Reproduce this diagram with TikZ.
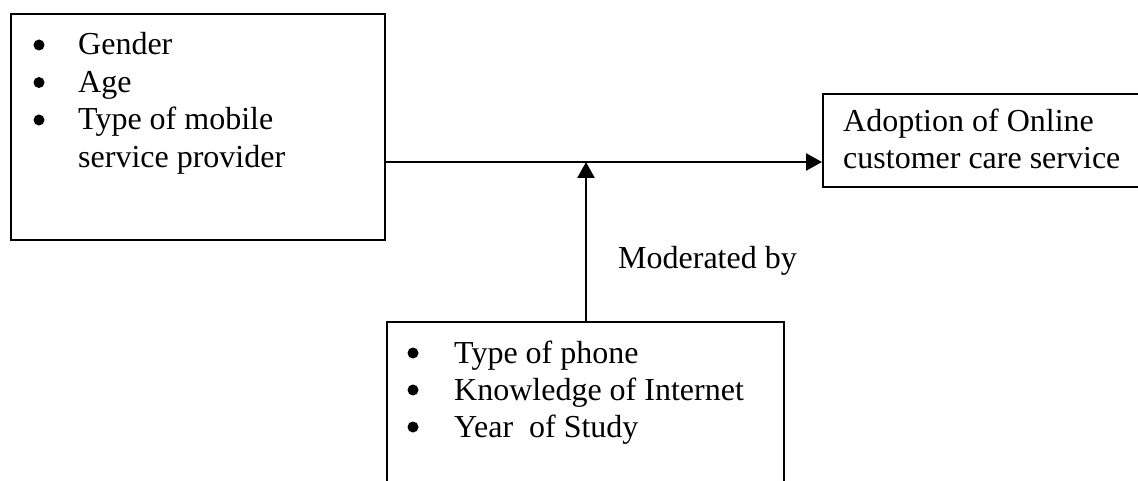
\documentclass[tikz,border=0pt]{standalone}
\usepackage{fontspec}
\setmainfont{Liberation Serif}
\usetikzlibrary{arrows.meta}
\tikzset{
	box/.style={draw, rectangle, line width=2pt, inner sep=0pt, anchor=north west},
	txt/.style={anchor=base west, inner sep=0pt, font=\fontsize{32}{37.5}\selectfont},
	link/.style={line width=2.6pt, -{Triangle[length=16pt,width=17pt]}},
}
\begin{document}
\begin{tikzpicture}[x=1pt,y=-1pt]
	\useasboundingbox (0,0) rectangle (1138,481);
	% boxes
	\node[box, minimum width=374pt, minimum height=226pt] (traits) at (10,13) {};
	\node[box, minimum width=330pt, minimum height=93pt] (adopt) at (822,93) {};
	\node[box, minimum width=397pt, minimum height=175pt] (moder) at (386,321) {};
	% left list
	\node[txt] (t1) at (78,55) {Gender};
	\node[txt] (t2) at (78,92.5) {Age};
	\node[txt] (t3) at (78,130) {Type of mobile};
	\node[txt] (t4) at (78,167.5) {service provider};
	% right text
	\node[txt] (a1) at (843,132) {Adoption of Online};
	\node[txt] (a2) at (843,169) {customer care service};
	% bottom list
	\node[txt] (m1) at (454,363) {Type of phone};
	\node[txt] (m2) at (454,400) {Knowledge of Internet};
	\node[txt] (m3) at (454,437) {Year\ \ of Study};
	% bullets
	\foreach \n/\dx in {t1/39,t2/39,t3/39,m1/41,m2/41,m3/41}
		\fill ([xshift=-\dx pt,yshift=10pt]\n.base west) circle (5.5pt);
	% connectors
	\coordinate (j) at (586,162);
	\draw[link] (traits.east |- j) -- (adopt.west |- j);
	\draw[link] (moder.north -| j) -- (j);
	\node[txt] (lbl) at (618,269) {Moderated by};
\end{tikzpicture}
\end{document}
